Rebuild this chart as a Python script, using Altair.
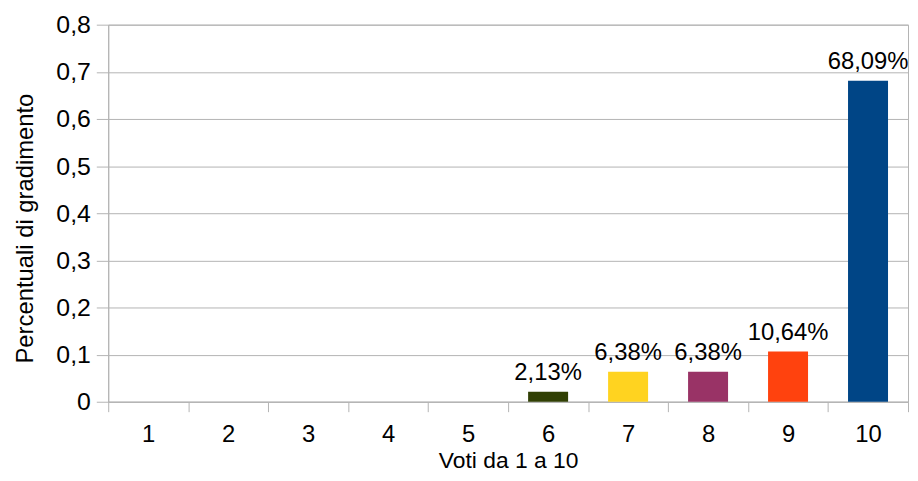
import altair as alt
import pandas as pd

voti = [str(i) for i in range(1, 11)]
valori = [0, 0, 0, 0, 0, 0.0213, 0.0638, 0.0638, 0.1064, 0.6809]
etichette = ["", "", "", "", "", "2,13%", "6,38%", "6,38%", "10,64%", "68,09%"]
colori = ["#004586", "#ff420e", "#ffd320", "#579d1c", "#7e0021",
          "#314004", "#ffd320", "#993366", "#ff420e", "#004586"]

df = pd.DataFrame({"voto": voti, "valore": valori, "etichetta": etichette, "colore": colori})

FONT = "Liberation Sans"
GRAY = "#b3b3b3"

x = alt.X("voto:N", sort=voti, title="Voti da 1 a 10",
          scale=alt.Scale(paddingInner=0, paddingOuter=0),
          axis=alt.Axis(labelAngle=0, tickBand="extent", tickSize=10, tickColor=GRAY,
                        domainColor=GRAY, labelFontSize=24, labelFont=FONT, labelColor="#000",
                        labelPadding=11, titleFont=FONT, titleFontSize=23, titleFontWeight="normal",
                        titleColor="#000", titleBaseline="alphabetic", titleY=66, grid=False))
y = alt.Y("valore:Q", title="Percentuali di gradimento",
          scale=alt.Scale(domain=[0, 0.8], nice=False),
          axis=alt.Axis(values=[0, 0.1, 0.2, 0.3, 0.4, 0.5, 0.6, 0.7, 0.8],
                        labelExpr="replace(format(datum.value, '.1~f'), '.', ',')",
                        tickSize=12, tickColor=GRAY, domainColor=GRAY,
                        gridColor=GRAY, labelFontSize=25, labelFont=FONT, labelColor="#000",
                        labelPadding=6, titleFont=FONT, titleFontSize=24, titleFontWeight="normal",
                        titleColor="#000", titleBaseline="alphabetic", titleX=-76, titleY=205))

bars = alt.Chart(df).mark_bar(width=alt.RelativeBandSize(0.5)).encode(
    x=x, y=y, color=alt.Color("colore:N", scale=None))

text = alt.Chart(df).mark_text(baseline="alphabetic", dy=-12, fontSize=24, font=FONT, color="#000").encode(
    x=alt.X("voto:N", sort=voti), y=alt.Y("valore:Q"), text="etichetta:N")

chart = (bars + text).properties(
    width=806, height=380,
    autosize=alt.AutoSizeParams(type="none"),
    padding={"left": 101, "top": 15, "right": 2, "bottom": 70},
).configure_view(stroke=GRAY)

chart.save("out.html", embed_options={"renderer": "svg", "actions": False})
